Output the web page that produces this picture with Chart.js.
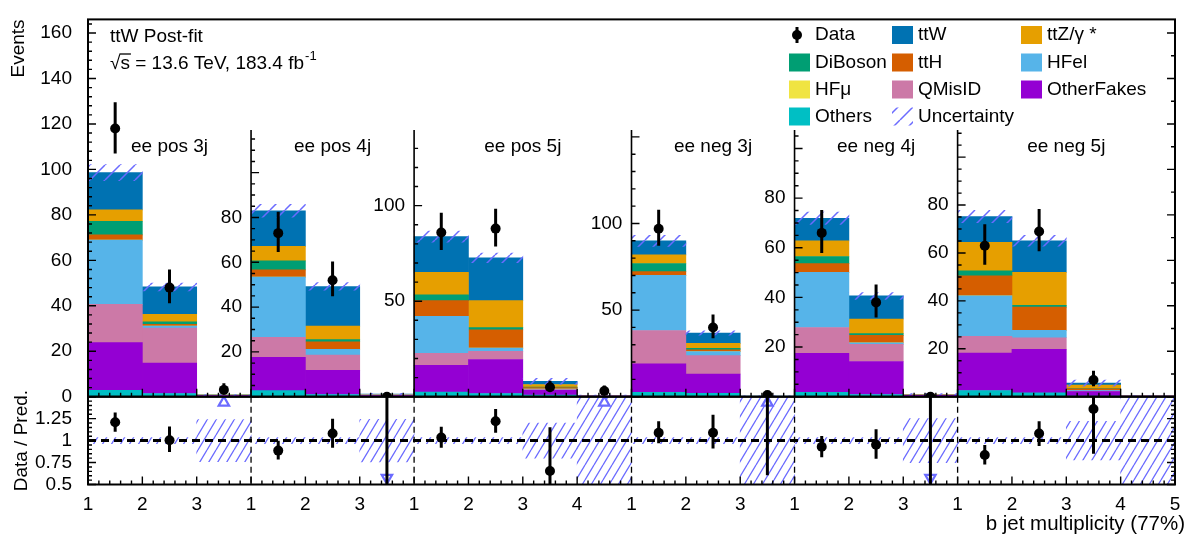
<!DOCTYPE html>
<html>
<head>
<meta charset="utf-8">
<title>ttW post-fit, b jet multiplicity</title>
<script src="https://cdn.jsdelivr.net/npm/chart.js@4.4.1/dist/chart.umd.min.js"></script>
<style>
  body { margin: 0; background: #fff; }
  canvas { display: block; }
</style>
</head>
<body>
<canvas id="bjets" width="1195" height="545"></canvas>
<script>
// Regions, bins per region and the range of each region's own y axis
var panelNames = ['ee pos 3j', 'ee pos 4j', 'ee pos 5j', 'ee neg 3j', 'ee neg 4j', 'ee neg 5j'];
var panelBins = [3, 3, 4, 3, 3, 4];
var panelMax = [166, 168.4, 197.5, 217.8, 152, 157.5];
var panelStep = [20, 20, 50, 50, 20, 20];
var panelMinor = [4, 5, 10, 10, 5, 5];
var panelLabelMax = [160, 80, 100, 100, 80, 80];

// Backgrounds per bin (all 20 bins, region after region), stacked bottom to top
var others     = [2.8, 1.4, 0.05,  2.7, 1.0, 0.1,   2.4, 1.7, 0.8, 0.05,  2.6, 1.9, 0.02,  1.8, 0.9, 0.05,  2.6, 1.6, 0.3, 0.02];
var otherFakes = [21.0, 13.4, 0.5, 14.9, 10.8, 0.45, 14.0, 17.8, 2.6, 0.3,  16.4, 11.2, 0.2,  15.7, 13.3, 0.5,  15.6, 18.2, 1.8, 0.2];
var qMisID     = [16.8, 15.4, 0.1,  8.9, 6.8, 0.15,  6.3, 4.2, 0.3, 0.05,   19.2, 10.6, 0.03, 10.4, 6.9, 0.1,   7.0, 4.8, 0.3, 0.03];
var hfEl       = [28.3, 0.9, 0.05,  26.9, 2.6, 0.1,  19.4, 1.7, 0.3, 0.02,  31.8, 2.3, 0.01, 22.2, 0.6, 0.05,  16.9, 3.1, 0.3, 0.01];
var hfMu       = [0, 0, 0,  0, 0, 0,  0, 0, 0, 0,  0, 0, 0,  0, 0, 0,  0, 0, 0, 0];
var ttH        = [2.3, 0.8, 0,  3.2, 3.3, 0.1,  8.2, 9.6, 0.8, 0.02,  2.2, 1.1, 0.01,  3.5, 3.0, 0.05,  8.4, 9.7, 0.6, 0.01];
var diBoson    = [6.0, 1.1, 0,  4.0, 1.0, 0.05,  3.0, 1.2, 0.2, 0,  4.7, 0.9, 0,  2.9, 0.7, 0.02,  2.1, 0.7, 0.1, 0];
var ttZ        = [5.0, 3.2, 0,  6.5, 6.0, 0.1,  11.8, 14.1, 1.4, 0.03,  5.0, 2.8, 0.01,  6.3, 5.9, 0.1,  11.8, 13.8, 1.5, 0.01];
var ttW        = [16.4, 12.1, 0.05,  15.9, 17.7, 0.15,  18.7, 22.4, 1.6, 0.03,  8.1, 6.0, 0.02,  9.1, 9.3, 0.13,  10.8, 13.2, 0.8, 0.02];
var uncertainty = [3.5, 1.7, 0.18,  2.9, 1.7, 0.29,  2.9, 2.5, 1.6, 0.35,  3.2, 1.3, 0.2,  2.5, 1.4, 0.25,  2.6, 2.3, 1.25, 0.2];

var sampleNames = ['Others', 'OtherFakes', 'QMisID', 'HFel', 'HFμ', 'ttH', 'DiBoson', 'ttZ/γ *', 'ttW'];
var sampleColors = ['#00bfc4', '#9400d3', '#cc79a7', '#56b4e9', '#f0e442', '#d55e00', '#009e73', '#e69f00', '#0072b2'];
var samples = [others, otherFakes, qMisID, hfEl, hfMu, ttH, diBoson, ttZ, ttW];

// Data
var dataCounts  = [118, 48, 3,  73, 52, 0,  86, 88, 5, 3,  97, 40, 1,  66, 38, 0,  63, 69, 7, null];
var dataErrDown = [11, 6.9, 1.6,  8.4, 7.2, 0,  9.2, 9.4, 2.2, 1.6,  9.8, 6.3, 0.8,  8.1, 6.1, 0,  7.9, 8.3, 2.6, null];
var dataErrUp   = [11.5, 8.0, 2.9,  9.6, 8.3, 1.8,  10.3, 10.4, 3.4, 2.9,  10.9, 7.4, 2.3,  9.2, 7.2, 1.8,  9.0, 9.4, 3.8, null];

// Data / Pred.
var ratio     = [1.21, 1.005, 4.0,  0.886, 1.08, 0,  1.034, 1.22, 0.654, 6.0,  1.09, 1.09, 3.3,  0.93, 0.952, 0,  0.837, 1.08, 1.36, null];
var ratioLow  = [1.10, 0.87, 1.9,  0.785, 0.92, 0,  0.92, 1.09, 0.3, 2.7,  0.97, 0.91, 0.606,  0.81, 0.793, 0,  0.729, 0.94, 0.85, null];
var ratioHigh = [1.32, 1.16, 8.1,  0.997, 1.25, 1.8,  1.157, 1.36, 1.153, 11.8,  1.22, 1.295, 7.7,  1.053, 1.128, 1.8,  0.949, 1.22, 1.68, null];
var ratioMin = 0.5, ratioMax = 1.5;
var ratioTicks = [0.5, 0.75, 1, 1.25];

var FONT = 'Liberation Sans';
var FS = 19;
Chart.defaults.font.family = FONT;
Chart.defaults.font.size = FS;
Chart.defaults.color = '#000';

var hatchColor = '#6b6bff';
function hatch(w, h, lw) {
    var c = document.createElement('canvas');
    c.width = w;
    c.height = h;
    var g = c.getContext('2d');
    g.strokeStyle = hatchColor;
    g.lineWidth = lw;
    g.beginPath();
    for (var k = -1; k <= 1; k++) {
        g.moveTo(k * w, h);
        g.lineTo(k * w + w, 0);
    }
    g.stroke();
    return g.createPattern(c, 'repeat');
}
var hatchMain = hatch(15, 15, 1.5);
var hatchRatio = hatch(9, 15, 1.3);

// bin bookkeeping
var panelStart = [];
var nBins = 0;
panelBins.forEach(function (n) { panelStart.push(nBins); nBins += n; });
function panelOf(i) {
    for (var p = panelStart.length - 1; p >= 0; p--) if (i >= panelStart[p]) return p;
    return 0;
}
function yId(p) { return p === 0 ? 'y' : 'y' + p; }
var binLabels = dataCounts.map(function (v, i) { return 'b' + i; });
var totals = binLabels.map(function (b, i) {
    return samples.reduce(function (s, arr) { return s + arr[i]; }, 0);
});

// datasets: one stack per region, each region on its own y axis
var datasets = [];
panelNames.forEach(function (name, p) {
    function only(arr) {
        return arr.map(function (v, i) { return panelOf(i) === p ? v : null; });
    }
    samples.forEach(function (arr, k) {
        datasets.push({
            type: 'bar', label: sampleNames[k], data: only(arr),
            backgroundColor: sampleColors[k], borderWidth: 0,
            xAxisID: 'x', yAxisID: yId(p), stack: 'p' + p, grouped: false,
            barPercentage: 1, categoryPercentage: 1, order: 2
        });
    });
    datasets.push({
        type: 'bar', label: 'Uncertainty',
        data: only(totals.map(function (t, i) { return [t - uncertainty[i], t + uncertainty[i]]; })),
        backgroundColor: hatchMain, borderWidth: 0,
        xAxisID: 'x', yAxisID: yId(p), stack: 'u' + p, grouped: false,
        barPercentage: 1, categoryPercentage: 1, order: 1
    });
    datasets.push({
        type: 'line', label: 'Data', data: only(dataCounts), showLine: false,
        pointRadius: 5, pointBackgroundColor: '#000', pointBorderWidth: 0,
        xAxisID: 'x', yAxisID: yId(p), stack: 'd' + p, order: 0,
        errLow: only(dataCounts.map(function (v, i) { return v === null ? null : v - dataErrDown[i]; })),
        errHigh: only(dataCounts.map(function (v, i) { return v === null ? null : v + dataErrUp[i]; }))
    });
});

// ratio panel
datasets.push({
    type: 'bar', label: 'Uncertainty',
    data: totals.map(function (t, i) {
        var r = uncertainty[i] / t;
        return [Math.max(ratioMin, 1 - r), Math.min(ratioMax, 1 + r)];
    }),
    backgroundColor: hatchRatio, borderWidth: 0,
    xAxisID: 'x', yAxisID: 'yr', grouped: false,
    barPercentage: 1, categoryPercentage: 1, order: 1
});
datasets.push({
    type: 'line', label: 'Ratio',
    data: ratio.map(function (v) { return v !== null && v >= ratioMin && v <= ratioMax ? v : null; }),
    showLine: false, pointRadius: 5, pointBackgroundColor: '#000', pointBorderWidth: 0,
    xAxisID: 'x', yAxisID: 'yr', order: 0,
    errLow: ratioLow, errHigh: ratioHigh
});
datasets.push({
    type: 'line', label: 'Ratio above',
    data: ratio.map(function (v) { return v !== null && v > ratioMax ? ratioMax - 0.067 : null; }),
    showLine: false, pointStyle: 'triangle', pointRadius: 6, pointBorderWidth: 2.2,
    pointBorderColor: hatchColor, pointBackgroundColor: '#fff',
    xAxisID: 'x', yAxisID: 'yr', order: 0
});
datasets.push({
    type: 'line', label: 'Ratio below',
    data: ratio.map(function (v) { return v !== null && v < ratioMin ? ratioMin + 0.076 : null; }),
    showLine: false, pointStyle: 'triangle', rotation: 180, pointRadius: 6, pointBorderWidth: 2.2,
    pointBorderColor: hatchColor, pointBackgroundColor: '#fff',
    xAxisID: 'x', yAxisID: 'yr', order: 0
});

// scales
var mainWeight = 389, ratioWeight = 90.5;
function stepTicks(from, to, step) {
    var out = [];
    for (var v = from; v <= to + 1e-9; v += step) out.push({ value: v });
    return out;
}
var scales = {
    x: { type: 'category', display: false, offset: true, grid: { display: false } },
    xt: {
        type: 'linear', position: 'bottom', min: 0, max: nBins, offset: false,
        afterBuildTicks: function (s) { s.ticks = stepTicks(0, nBins, 1); },
        ticks: {
            autoSkip: false, maxRotation: 0, padding: 1,
            callback: function (v) {
                var p = panelOf(Math.min(v, nBins - 1));
                return String(v - panelStart[p] + 1);
            }
        },
        grid: { display: false }, border: { display: false },
        afterFit: function (s) { s.height = 60.5; }
    },
    y: {
        type: 'linear', position: 'left', stack: 'v', stackWeight: mainWeight, weight: 2,
        stacked: true, min: 0, max: panelMax[0],
        afterBuildTicks: function (s) { s.ticks = stepTicks(0, panelLabelMax[0], panelStep[0]); },
        ticks: { autoSkip: false, padding: 8 },
        grid: { display: false }, border: { display: false },
        title: { display: true, text: 'Events', align: 'end', padding: { top: 7 } },
        afterFit: function (s) { s.width = 88; }
    },
    yr: {
        type: 'linear', position: 'left', stack: 'v', stackWeight: ratioWeight, weight: 1,
        min: ratioMin, max: ratioMax,
        afterBuildTicks: function (s) {
            s.ticks = ratioTicks.map(function (v) { return { value: v }; });
        },
        ticks: { autoSkip: false, padding: 8, callback: function (v) { return String(v); } },
        grid: { display: false }, border: { display: false },
        title: { display: true, text: 'Data / Pred.', padding: { top: 10 } },
        afterFit: function (s) { s.width = 88; }
    }
};
for (var p = 1; p < panelNames.length; p++) {
    (function (p) {
        scales[yId(p)] = {
            type: 'linear', position: { xt: panelStart[p] }, stackWeight: mainWeight / (mainWeight + ratioWeight),
            stacked: true, min: 0, max: panelMax[p],
            afterBuildTicks: function (s) { s.ticks = stepTicks(panelStep[p], panelLabelMax[p], panelStep[p]); },
            ticks: { autoSkip: false, callback: function (v) { return v + ' \u2009'; } },
            grid: { display: false }, border: { display: false }
        };
    })(p);
}

// frame, ticks, error bars, labels and legend
var subPanelTop = 130;
function ticksY(c, sc, x, dir, to, minor, major, from) {
    from = from || 0;
    var n = Math.floor((to - from) / minor + 1e-6);
    c.beginPath();
    for (var k = 0; k <= n; k++) {
        var v = from + k * minor;
        var isMajor = Math.abs(v / major - Math.round(v / major)) < 1e-6;
        var py = sc.getPixelForValue(v);
        c.moveTo(x, py);
        c.lineTo(x + dir * (isMajor ? 8 : 4), py);
    }
    c.stroke();
}
function ticksX(c, sc, y) {
    c.beginPath();
    for (var k = 0; k <= nBins * 5; k++) {
        var px = sc.getPixelForValue(k / 5);
        c.moveTo(px, y);
        c.lineTo(px, y - (k % 5 === 0 ? 8 : 4));
    }
    c.stroke();
}

var legendRows = [['Data', 'ttW', 'ttZ/γ *'], ['DiBoson', 'ttH', 'HFel'], ['HFμ', 'QMisID', 'OtherFakes'], ['Others', 'Uncertainty']];

var decor = {
    id: 'decor',
    afterDatasetsDraw: function (chart) {
        var c = chart.ctx;
        var xs = chart.scales.xt, xc = chart.scales.x, ym = chart.scales.y, yr = chart.scales.yr;
        var L = chart.chartArea.left, R = chart.chartArea.right;
        c.save();

        // error bars
        chart.data.datasets.forEach(function (ds) {
            if (!ds.errLow) return;
            var sc = chart.scales[ds.yAxisID];
            c.save();
            c.beginPath();
            c.rect(L, sc.top, R - L, sc.bottom - sc.top);
            c.clip();
            c.strokeStyle = '#000';
            c.lineWidth = 3;
            c.beginPath();
            ds.errLow.forEach(function (lo, i) {
                var hi = ds.errHigh[i];
                if (lo === null || hi === null) return;
                var px = xc.getPixelForValue(i);
                c.moveTo(px, sc.getPixelForValue(lo));
                c.lineTo(px, sc.getPixelForValue(hi));
            });
            c.stroke();
            c.restore();
        });

        c.strokeStyle = '#000';
        // dashed line at 1
        c.setLineDash([8, 5]);
        c.lineWidth = 3;
        c.beginPath();
        c.moveTo(L, yr.getPixelForValue(1));
        c.lineTo(R, yr.getPixelForValue(1));
        c.stroke();

        // region separators
        c.setLineDash([6, 4]);
        c.lineWidth = 1.3;
        c.beginPath();
        for (var p = 1; p < panelStart.length; p++) {
            var px = xs.getPixelForValue(panelStart[p]);
            c.moveTo(px, yr.top);
            c.lineTo(px, yr.bottom);
        }
        c.stroke();
        c.setLineDash([]);
        c.lineWidth = 1.6;
        c.beginPath();
        for (p = 1; p < panelStart.length; p++) {
            px = xs.getPixelForValue(panelStart[p]);
            c.moveTo(px, subPanelTop);
            c.lineTo(px, ym.bottom);
        }
        c.stroke();

        // ticks
        c.lineWidth = 1.4;
        ticksX(c, xs, ym.bottom);
        ticksX(c, xs, yr.bottom);
        ticksY(c, ym, L, 1, panelMax[0], panelMinor[0], panelStep[0]);
        ticksY(c, ym, R, -1, panelMax[0], 10, 20);
        for (p = 1; p < panelStart.length; p++) {
            var sc = chart.scales[yId(p)];
            ticksY(c, sc, xs.getPixelForValue(panelStart[p]), 1, sc.getValueForPixel(subPanelTop), panelMinor[p], panelStep[p]);
        }
        ticksY(c, yr, L, 1, ratioMax, 0.05, 0.25, ratioMin);
        ticksY(c, yr, R, -1, ratioMax, 0.05, 0.25, ratioMin);

        // frames
        c.lineWidth = 2;
        c.strokeRect(L, ym.top, R - L, ym.bottom - ym.top);
        c.strokeRect(L, yr.top, R - L, yr.bottom - yr.top);

        // region names
        c.fillStyle = '#000';
        c.font = FS + 'px ' + FONT;
        c.textAlign = 'center';
        c.textBaseline = 'middle';
        panelNames.forEach(function (n, p) {
            var cx = (xs.getPixelForValue(panelStart[p]) + xs.getPixelForValue(panelStart[p] + panelBins[p])) / 2;
            c.fillText(n, cx, 147);
        });

        // x axis title
        c.textAlign = 'right';
        c.font = '20.5px ' + FONT;
        c.fillText('b jet multiplicity (77%)', 1185, 524);
        c.font = FS + 'px ' + FONT;

        // header
        c.textAlign = 'left';
        c.fillText('ttW Post-fit', 110, 37);
        var x0 = 110, y0 = 64;
        c.fillText('√', x0, y0);
        var wr = c.measureText('√').width;
        c.fillText('s', x0 + wr, y0);
        var ws = c.measureText('s').width;
        c.lineWidth = 1.3;
        c.beginPath();
        c.moveTo(x0 + wr - 1, y0 - 10);
        c.lineTo(x0 + wr + ws + 1, y0 - 10);
        c.stroke();
        var rest = ' = 13.6 TeV, 183.4 fb';
        c.fillText(rest, x0 + wr + ws, y0);
        var wt = c.measureText(rest).width;
        c.font = '13px ' + FONT;
        c.fillText('-1', x0 + wr + ws + wt + 1, y0 - 8);

        // legend
        var colX = [789, 892, 1021], rowY = [35, 62.5, 89.5, 116.5];
        c.font = FS + 'px ' + FONT;
        legendRows.forEach(function (row, r) {
            row.forEach(function (name, k) {
                var lx = colX[k], ly = rowY[r];
                if (name === 'Data') {
                    c.fillStyle = '#000';
                    c.beginPath();
                    c.arc(lx + 8, ly, 5, 0, Math.PI * 2);
                    c.fill();
                    c.lineWidth = 3;
                    c.beginPath();
                    c.moveTo(lx + 8, ly - 8);
                    c.lineTo(lx + 8, ly + 8);
                    c.stroke();
                } else if (name === 'Uncertainty') {
                    c.fillStyle = hatchMain;
                    c.fillRect(lx, ly - 9, 21, 18);
                } else {
                    c.fillStyle = sampleColors[sampleNames.indexOf(name)];
                    c.fillRect(lx, ly - 9, 21, 18);
                }
                c.fillStyle = '#000';
                c.fillText(name, lx + 26, ly);
            });
        });
        c.restore();
    }
};

var ctx = document.getElementById('bjets').getContext('2d');
var chart = new Chart(ctx, {
    type: 'bar',
    data: { labels: binLabels, datasets: datasets },
    options: {
        responsive: false,
        animation: false,
        devicePixelRatio: 1,
        layout: { padding: { top: 5, right: 20, bottom: 0, left: 0 } },
        plugins: { legend: { display: false }, tooltip: { enabled: false } },
        scales: scales
    },
    plugins: [decor]
});
</script>
</body>
</html>
